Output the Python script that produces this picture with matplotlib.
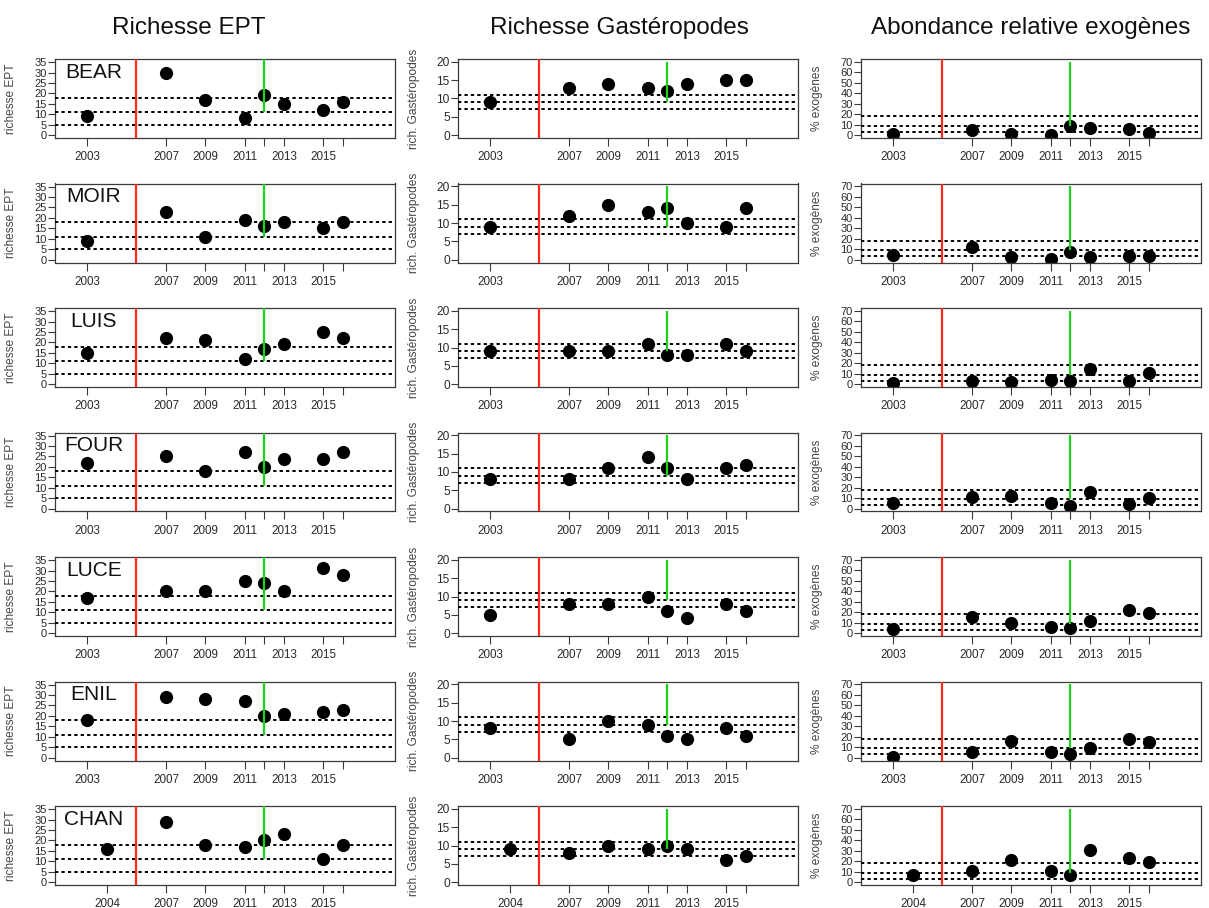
import matplotlib
matplotlib.use("Agg")
import matplotlib.pyplot as plt

plt.rcParams['font.family'] = ['Liberation Sans', 'DejaVu Sans']

# ---------------- data ----------------
stations = ['BEAR', 'MOIR', 'LUIS', 'FOUR', 'LUCE', 'ENIL', 'CHAN']
years = [2003, 2007, 2009, 2011, 2012, 2013, 2015, 2016]
years_chan = [2004, 2007, 2009, 2011, 2012, 2013, 2015, 2016]
xtick_labels = ['2003', '2007', '2009', '2011', '', '2013', '2015', '']
xtick_labels_chan = ['2004', '2007', '2009', '2011', '', '2013', '2015', '']

ept = {
    'BEAR': [9, 30, 17, 8, 19, 15, 12, 16],
    'MOIR': [9, 23, 11, 19, 16, 18, 15, 18],
    'LUIS': [15, 22, 21, 12, 17, 19, 25, 22],
    'FOUR': [22, 25, 18, 27, 20, 24, 24, 27],
    'LUCE': [17, 20, 20, 25, 24, 20, 31, 28],
    'ENIL': [18, 29, 28, 27, 20, 21, 22, 23],
    'CHAN': [16, 29, 18, 17, 20, 23, 11, 18],
}
gastro = {
    'BEAR': [9, 13, 14, 13, 12, 14, 15, 15],
    'MOIR': [9, 12, 15, 13, 14, 10, 9, 14],
    'LUIS': [9, 9, 9, 11, 8, 8, 11, 9],
    'FOUR': [8, 8, 11, 14, 11, 8, 11, 12],
    'LUCE': [5, 8, 8, 10, 6, 4, 8, 6],
    'ENIL': [8, 5, 10, 9, 6, 5, 8, 6],
    'CHAN': [9, 8, 10, 9, 10, 9, 6, 7],
}
exo = {
    'BEAR': [1, 5, 1, 0, 9, 7, 6, 2],
    'MOIR': [4, 12, 2.5, 1, 7.5, 2.5, 3, 3],
    'LUIS': [1, 3, 2, 4, 3, 14, 3, 11],
    'FOUR': [5, 11, 12, 5, 2, 16, 4, 10],
    'LUCE': [4, 15, 10, 6, 5, 12, 22, 19],
    'ENIL': [1, 5, 16, 5, 3, 9, 18, 15],
    'CHAN': [7, 11, 21, 11, 7, 31, 23, 19],
}

ept_thresholds = [5, 11, 18]
gastro_thresholds = [7, 9, 11]
exo_thresholds = [3, 9, 18]

ept_yticks = [0, 5, 10, 15, 20, 25, 30, 35]
gastro_yticks = [0, 5, 10, 15, 20]
exo_yticks = [0, 10, 20, 30, 40, 50, 60, 70]

red_year = 2005.5
green_year = 2012

col_titles = ['Richesse EPT', 'Richesse Gastéropodes', 'Abondance relative exogènes']
ylabels = ['richesse EPT', 'rich. Gastéropodes', '% exogènes']

# ---------------- layout ----------------
W, H = 1209, 908
fig = plt.figure(figsize=(W / 100, H / 100), dpi=100)

col_left = [55, 458, 861]
box_w = 340
box_h = 79
row_top0 = 59
row_step = 124.5

datasets = [ept, gastro, exo]
thresholds = [ept_thresholds, gastro_thresholds, exo_thresholds]
yticks_list = [ept_yticks, gastro_yticks, exo_yticks]
ylims = [(-1.4, 36.5), (-0.8, 20.8), (-2.8, 72.8)]
green_tops = [36.5, 20, 70]
xlim = (2001.36, 2018.64)

frame_col = '#3a3a3a'
text_col = '#2a2a2a'
ytick_sizes = [8.0, 8.6, 8.0]

for r, st in enumerate(stations):
    top = row_top0 + r * row_step
    yrs = years_chan if st == 'CHAN' else years
    labs = xtick_labels_chan if st == 'CHAN' else xtick_labels
    for c in range(3):
        ax = fig.add_axes([col_left[c] / W, 1 - (top + box_h) / H, box_w / W, box_h / H])
        vals = datasets[c][st]
        ax.plot(yrs, vals, 'o', color='black', ms=9.5, mec='none', zorder=2)
        for t in thresholds[c]:
            ax.axhline(t, color='black', lw=1.4, ls=(0, (1.7, 1.6)), zorder=3)
        ax.axvline(red_year, color='#ff2a1a', lw=1.6, zorder=3)
        ax.vlines(green_year, thresholds[c][1], green_tops[c], color='#1fd11f', lw=1.6, zorder=3)
        ax.set_xlim(*xlim)
        ax.set_ylim(*ylims[c])
        ax.set_xticks(yrs)
        ax.set_xticklabels(labs)
        ax.set_yticks(yticks_list[c])
        ax.set_yticklabels([str(v) for v in yticks_list[c]])
        ax.tick_params(axis='x', length=6, width=0.8, pad=3.5, labelsize=8.4,
                       color=frame_col, labelcolor=text_col)
        ax.tick_params(axis='y', length=5, width=0.8, pad=1, labelsize=ytick_sizes[c],
                       color=frame_col, labelcolor=text_col)
        for sp in ax.spines.values():
            sp.set_color(frame_col)
            sp.set_linewidth(0.9)
        ax.set_ylabel(ylabels[c], fontsize=8.6, color='#444444')
        ax.yaxis.set_label_coords(-0.112, 0.5)
        if c == 0:
            ax.text(0.114, 0.835, st, transform=ax.transAxes, ha='center', va='center',
                    fontsize=15, color='#111111')

title_x = [189, 619, 1031]
for c in range(3):
    fig.text(title_x[c] / W, 1 - 28 / H, col_titles[c], ha='center', va='center',
             fontsize=17.5, color='#111111')

fig.savefig('out.png', dpi=100)
